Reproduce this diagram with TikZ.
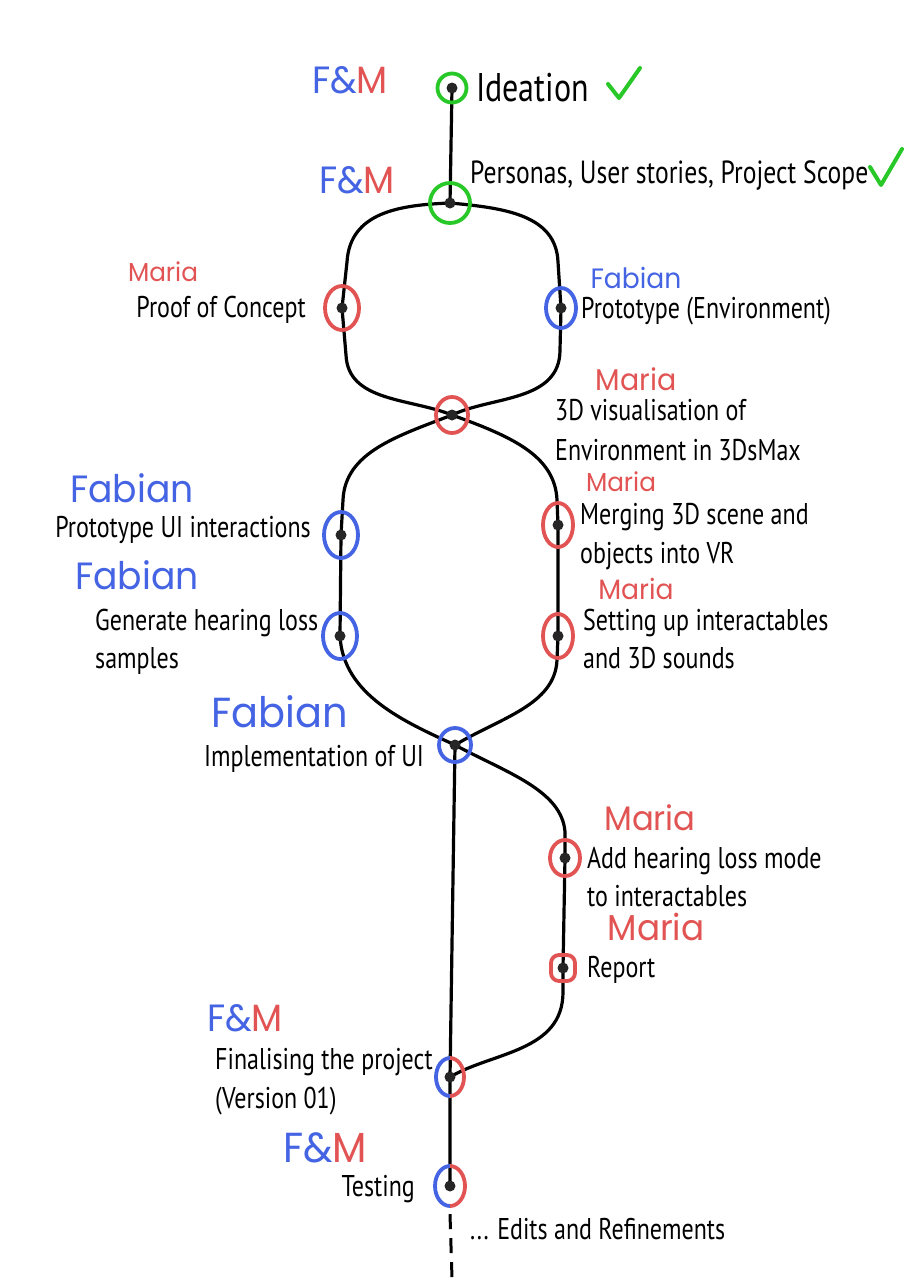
\documentclass[tikz,border=0pt]{standalone}
\usepackage{fontspec}
\setmainfont{PT Sans}[FakeStretch=0.8]
\newfontfamily\handfont{Poppins}[FakeStretch=0.95]
\usetikzlibrary{shapes.geometric}
\definecolor{cgreen}{RGB}{40,200,40}
\definecolor{cred}{RGB}{226,84,84}
\definecolor{cblue}{RGB}{68,100,228}
\pgfdeclarelayer{paper}
\pgfdeclarelayer{bg}
\pgfsetlayers{paper,bg,main}
\tikzset{
  ring/.style={ellipse, draw=#1, line width=3.8pt, inner sep=0pt},
  hole/.style={ellipse, inner sep=0pt},
  track/.style={line width=3.2pt, black, line cap=round},
  txt/.style={inner sep=0pt, font=\fontsize{30}{33}\selectfont},
  who/.style={inner sep=0pt, font=\handfont\fontsize{#1}{#1}\selectfont},
  tick/.style={cgreen, line width=4pt, line cap=round, line join=round},
}
\begin{document}
\begin{tikzpicture}[x=1pt,y=-1pt]
\useasboundingbox (0,0) rectangle (905,1280);
\begin{pgfonlayer}{paper}
\fill[white] (0,0) rectangle (905,1280);
\end{pgfonlayer}

% commit rings
\node[ring=cgreen, minimum width=29, minimum height=29] (ide) at (452,88) {};
\node[ring=cgreen, minimum width=40, minimum height=40] (per) at (450,203) {};
\node[ring=cred, minimum width=34, minimum height=44] (poc) at (342,308) {};
\node[ring=cblue, minimum width=30, minimum height=40] (penv) at (561,308) {};
\node[ring=cred, minimum width=32, minimum height=36] (v3d) at (452,415) {};
\node[ring=cblue, minimum width=34, minimum height=46] (pui) at (341,535) {};
\node[ring=cblue, minimum width=34, minimum height=46] (gen) at (340,636) {};
\node[ring=cred, minimum width=30, minimum height=44] (merge) at (558,525) {};
\node[ring=cred, minimum width=30, minimum height=44] (setup) at (558,636) {};
\node[ring=cblue, minimum width=32, minimum height=34] (impl) at (455,745) {};
\node[ring=cred, minimum width=30, minimum height=36] (addh) at (565,858) {};
\node[rectangle, rounded corners=8pt, draw=cred, line width=3.8pt, minimum width=24, minimum height=26, inner sep=0pt] (report) at (563,968) {};
\node[hole, minimum width=28, minimum height=38] (fin) at (450,1077) {};
\node[hole, minimum width=30, minimum height=40] (test) at (450,1186) {};
\coordinate (tend) at (452,1278);

% split rings
\draw[cblue, line width=3.8pt] (fin.center) ++(0,19) arc[start angle=90, end angle=270, x radius=14, y radius=19];
\draw[cred, line width=3.8pt] (fin.center) ++(0,-19) arc[start angle=-90, end angle=90, x radius=14, y radius=19];
\draw[cblue, line width=3.8pt] (test.center) ++(0,20) arc[start angle=90, end angle=270, x radius=15, y radius=20];
\draw[cred, line width=3.8pt] (test.center) ++(0,-20) arc[start angle=-90, end angle=90, x radius=15, y radius=20];

% tracks
\begin{pgfonlayer}{bg}
\draw[track] (ide.center) -- (per.center);
\draw[track] (per.center) .. controls (400,205) and (350,212) .. (347,262) -- (poc.center) -- (346,355) .. controls (348,402) and (410,398) .. (v3d.center);
\draw[track] (per.center) .. controls (505,208) and (556,215) .. (558,262) -- (penv.center) -- (560,350) .. controls (560,402) and (492,396) .. (v3d.center);
\draw[track] (v3d.center) .. controls (398,436) and (345,452) .. (343,500) -- (pui.center) -- (gen.center) .. controls (343,695) and (405,722) .. (impl.center);
\draw[track] (v3d.center) .. controls (510,436) and (555,455) .. (557,500) -- (merge.center) -- (setup.center) -- (557,660) .. controls (555,705) and (500,718) .. (impl.center);
\draw[track] (impl.center) -- (fin.center) -- (test.center);
\draw[track] (impl.center) .. controls (505,772) and (562,790) .. (565,832) -- (addh.center) -- (report.center) -- (563,992) .. controls (563,1052) and (492,1052) .. (fin.center);
\draw[line width=3pt, dash pattern=on 15pt off 9pt] (test.south) ++(0,8) -- (tend);
\end{pgfonlayer}

% dots
\foreach \n in {ide,per,poc,penv,v3d,pui,gen,merge,setup,impl,addh,report,fin,test}
  \fill[black!85] (\n.center) circle (5.5);

% ticks
\draw[tick] (608,84) -- (619,98) -- (640,68);
\draw[tick] (870,167) -- (881,185) -- (902,149);

% labels
\node[inner sep=0pt, anchor=base west, font=\fontsize{40}{44}\selectfont] (lide) at (476,101) {Ideation};
\node[inner sep=0pt, anchor=base west, font=\fontsize{32}{35}\selectfont] (lper) at (470,183) {Personas, User stories, Project Scope};
\node[txt, anchor=base east] (lpoc) at (306,317) {Proof of Concept};
\node[txt, anchor=base west] (lpenv) at (581,318) {Prototype (Environment)};
\node[txt, anchor=base west] (lv3d) at (555,420) {3D visualisation of};
\node[txt, anchor=base west] (lv3db) at (555,460) {Environment in 3DsMax};
\node[txt, anchor=base east] (lpui) at (311,537) {Prototype UI interactions};
\node[txt, anchor=base west] (lgen) at (95,630) {Generate hearing loss};
\node[txt, anchor=base west] (lgenb) at (95,668) {samples};
\node[txt, anchor=base west] (lmerge) at (580,524) {Merging 3D scene and};
\node[txt, anchor=base west] (lmergeb) at (580,563) {objects into VR};
\node[txt, anchor=base west] (lsetup) at (583,630) {Setting up interactables};
\node[txt, anchor=base west] (lsetupb) at (583,668) {and 3D sounds};
\node[txt, anchor=base west] (limpl) at (204,766) {Implementation of UI};
\node[txt, anchor=base west] (laddh) at (587,868) {Add hearing loss mode};
\node[txt, anchor=base west] (laddhb) at (587,906) {to interactables};
\node[txt, anchor=base west] (lrep) at (587,977) {Report};
\node[txt, anchor=base west] (lfin) at (215,1069) {Finalising the project};
\node[txt, anchor=base west] (lfinb) at (215,1108) {(Version 01)};
\node[txt, anchor=base east] (ltest) at (415,1196) {Testing};
\node[txt, anchor=base west] (ledit) at (470,1239) {... Edits and Refinements};

% owners
\node[who=38] (o1) at (350,80) {\textcolor{cblue}{F\&}\textcolor{cred}{M}};
\node[who=38] (o2) at (357,180) {\textcolor{cblue}{F\&}\textcolor{cred}{M}};
\node[who=26, text=cred] (o3) at (163,272) {Maria};
\node[who=28, text=cblue] (o4) at (636,278) {Fabian};
\node[who=30, text=cred] (o5) at (636,379) {Maria};
\node[who=38, text=cblue] (o6) at (132,488) {Fabian};
\node[who=26, text=cred] (o7) at (621,482) {Maria};
\node[who=38, text=cblue] (o8) at (137,575) {Fabian};
\node[who=28, text=cred] (o9) at (636,589) {Maria};
\node[who=42, text=cblue] (o10) at (280,712) {Fabian};
\node[who=34, text=cred] (o11) at (650,818) {Maria};
\node[who=36, text=cred] (o12) at (656,927) {Maria};
\node[who=38] (o13) at (245,1018) {\textcolor{cblue}{F\&}\textcolor{cred}{M}};
\node[who=42] (o14) at (325,1148) {\textcolor{cblue}{F\&}\textcolor{cred}{M}};
\end{tikzpicture}
\end{document}
